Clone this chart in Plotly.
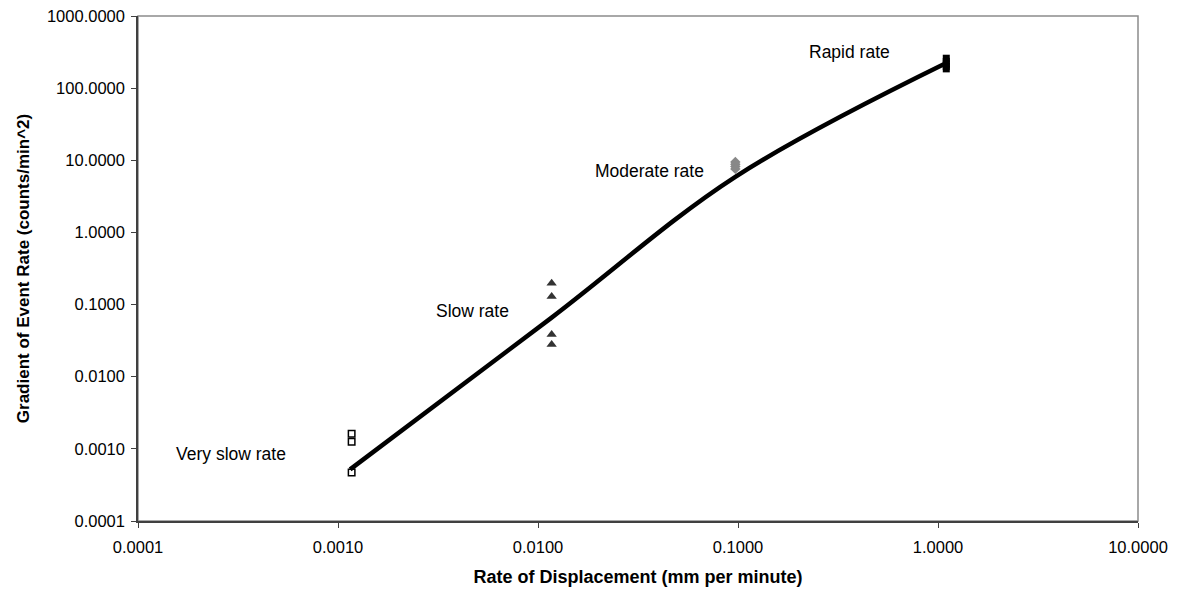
import math
import plotly.graph_objects as go

# ---- data ----
very_slow_x = [0.00117, 0.00117, 0.00117]
very_slow_y = [0.00162, 0.00125, 0.00047]

slow_x = [0.0117, 0.0117, 0.0117, 0.0117]
slow_y = [0.197, 0.129, 0.0384, 0.0279]

moderate_x = [0.097, 0.097, 0.097, 0.097]
moderate_y = [9.5, 8.8, 8.2, 7.6]

rapid_x = [1.1, 1.1, 1.1, 1.1, 1.1]
rapid_y = [260, 235, 215, 200, 185]

trend_x = [0.00115, 0.0117, 0.097, 1.1]
trend_y = [0.00052, 0.066, 5.9, 223]

tick_vals = [0.0001, 0.001, 0.01, 0.1, 1, 10, 100, 1000]
x_tick_text = ["0.0001", "0.0010", "0.0100", "0.1000", "1.0000", "10.0000"]
y_tick_text = ["0.0001", "0.0010", "0.0100", "0.1000", "1.0000", "10.0000",
               "100.0000", "1000.0000"]

labels = ["Very slow rate", "Slow rate", "Moderate rate", "Rapid rate"]
label_x = [0.000292, 0.00473, 0.0359, 0.359]
label_y = [0.00085, 0.0826, 7.04, 316]

FONT = "Liberation Sans, Arial, sans-serif"

fig = go.Figure()

fig.add_trace(go.Scatter(x=trend_x, y=trend_y, mode="lines",
                         line=dict(color="black", width=4.5, shape="spline", smoothing=1.0),
                         showlegend=False, hoverinfo="skip"))
fig.add_trace(go.Scatter(x=very_slow_x, y=very_slow_y, mode="markers",
                         marker=dict(symbol="square-open", size=6.5, color="black",
                                     line=dict(width=1.5, color="black")),
                         showlegend=False))
fig.add_trace(go.Scatter(x=slow_x, y=slow_y, mode="markers",
                         marker=dict(symbol="triangle-up", size=9, color="#333333"),
                         showlegend=False))
fig.add_trace(go.Scatter(x=moderate_x, y=moderate_y, mode="markers",
                         marker=dict(symbol="diamond", size=8, color="#888888"),
                         showlegend=False))
fig.add_trace(go.Scatter(x=rapid_x, y=rapid_y, mode="markers",
                         marker=dict(symbol="square", size=7, color="black"),
                         showlegend=False))

# log axes: annotation positions are given in log10 units
for t, x, y in zip(labels, label_x, label_y):
    fig.add_annotation(x=math.log10(x), y=math.log10(y), xref="x", yref="y", text=t,
                       showarrow=False, font=dict(family=FONT, size=17.5, color="black"))

# plot-area border (top/right gray)
fig.add_shape(type="rect", xref="x domain", yref="y domain", x0=0, x1=1, y0=0, y1=1,
              line=dict(color="#8c8c8c", width=1.5), layer="below")

fig.update_xaxes(type="log", range=[-4, 1], tickvals=tick_vals[:6], ticktext=x_tick_text,
                 showgrid=False, zeroline=False, showline=True, linecolor="#404040",
                 linewidth=1.5, ticks="outside", ticklen=5, tickcolor="#404040",
                 tickfont=dict(family=FONT, size=16.5, color="black"),
                 ticklabelstandoff=5, automargin=False, ticklabeloverflow="allow",
                 title=dict(text="<b>Rate of Displacement (mm per minute)</b>",
                            font=dict(family=FONT, size=18, color="black"), standoff=16))
fig.update_yaxes(type="log", range=[-4, 3], tickvals=tick_vals, ticktext=y_tick_text,
                 showgrid=False, zeroline=False, showline=True, linecolor="#404040",
                 linewidth=1.5, ticks="outside", ticklen=5, tickcolor="#404040",
                 tickfont=dict(family=FONT, size=16.5, color="black"),
                 ticklabelstandoff=3, automargin=False, ticklabeloverflow="allow",
                 title=dict(text="<b>Gradient of Event Rate (counts/min^2)</b>",
                            font=dict(family=FONT, size=17, color="black"), standoff=13))

fig.update_layout(width=1182, height=594, plot_bgcolor="white", paper_bgcolor="white",
                  margin=dict(l=138, r=44, t=16, b=73), showlegend=False)

# remove the default 8px page margin so the figure sits at the window's corner
fig.write_html("out.html", config={"displayModeBar": False},
               post_script="document.body.style.margin='0px';")
